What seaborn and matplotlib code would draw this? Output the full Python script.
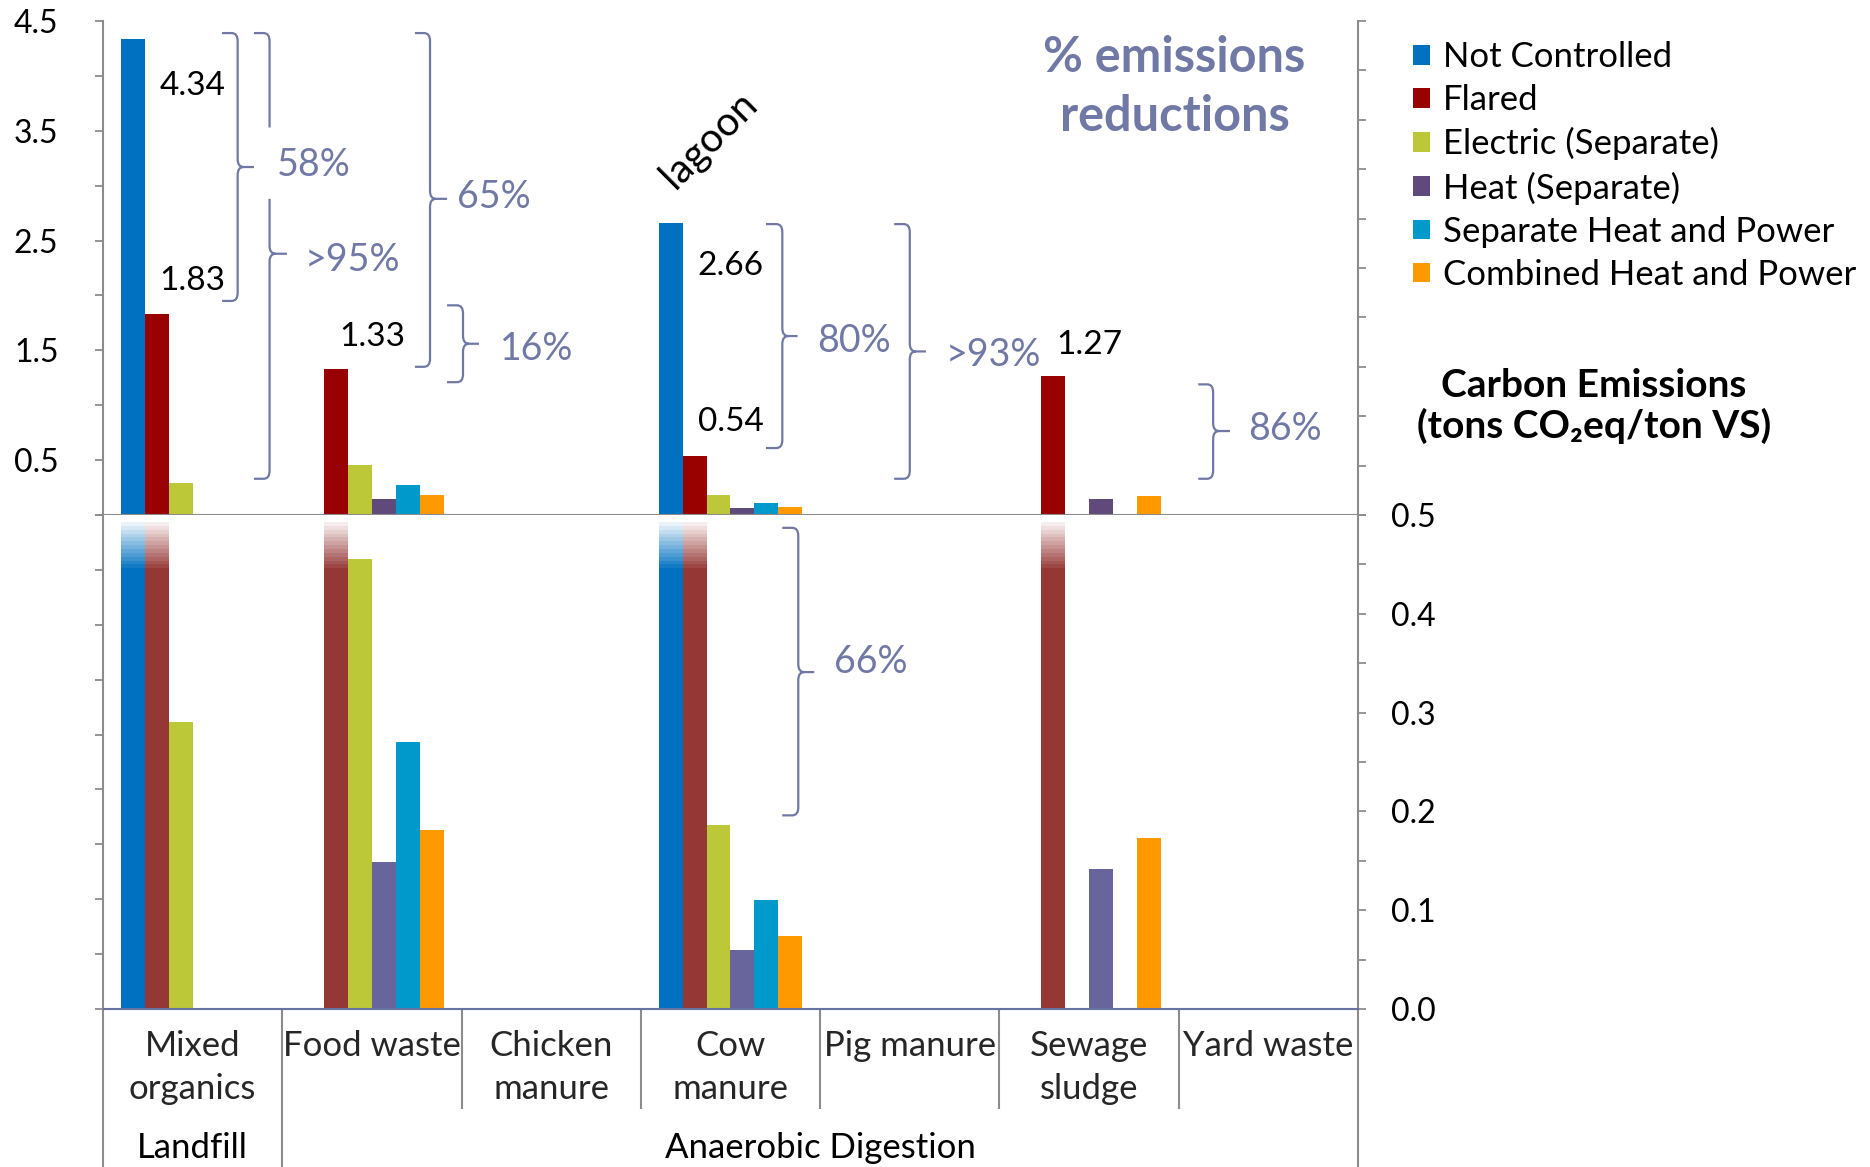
import numpy as np
import pandas as pd
import matplotlib
matplotlib.use("Agg")
import matplotlib.pyplot as plt
from matplotlib.path import Path
from matplotlib.patches import PathPatch, Patch
from matplotlib import transforms
from matplotlib.ticker import FixedLocator, NullFormatter, FormatStrFormatter
import seaborn as sns

# ---------------------------------------------------------------- data
categories = ["Mixed\norganics", "Food waste", "Chicken\nmanure", "Cow\nmanure",
              "Pig manure", "Sewage\nsludge", "Yard waste"]
series = ["Not Controlled", "Flared", "Electric (Separate)", "Heat (Separate)",
          "Separate Heat and Power", "Combined Heat and Power"]
nan = np.nan
not_controlled = [4.34, nan, nan, 2.66, nan, nan, nan]
flared = [1.83, 1.33, nan, 0.54, nan, 1.27, nan]
electric = [0.29, 0.455, nan, 0.186, nan, nan, nan]
heat = [nan, 0.149, nan, 0.060, nan, 0.142, nan]
sep_heat_power = [nan, 0.270, nan, 0.110, nan, nan, nan]
comb_heat_power = [nan, 0.181, nan, 0.074, nan, 0.173, nan]

treatments = ["Landfill", "Anaerobic Digestion"]
treatment_spans = [(0, 0), (1, 6)]          # first / last category index of each group
left_ticks = [0.5, 1.5, 2.5, 3.5, 4.5]       # upper panel scale
right_ticks = [0.0, 0.1, 0.2, 0.3, 0.4, 0.5]  # lower (zoomed) panel scale
TOP_MAX, BOT_MAX = 4.5, 0.5

reductions = ["58%", ">95%", "65%", "16%", "80%", ">93%", "86%"]
reduction_zoom = ["66%"]

values = [not_controlled, flared, electric, heat, sep_heat_power, comb_heat_power]
df = pd.DataFrame(
    [(c, s, v) for s, vals in zip(series, values) for c, v in zip(categories, vals)],
    columns=["category", "series", "value"],
).dropna()

# ---------------------------------------------------------------- style
top_palette = ["#0070C0", "#990000", "#BCC837", "#604A7B", "#0099CC", "#FF9900"]
bot_palette = ["#0070C0", "#953735", "#BCC837", "#67659B", "#0099CC", "#FF9900"]
GRAY = "#8C8C8C"
SLATE = "#7079A6"
AXIS_BLUE = "#6872A3"

sns.set_theme(style="white")
plt.rcParams["font.family"] = ["Lato", "DejaVu Sans"]
plt.rcParams["text.color"] = "black"

fig = plt.figure(figsize=(18.7, 11.67), dpi=100)
L, W = 103 / 1870, 1255 / 1870
H = 494 / 1167
ax_top = fig.add_axes([L, 1 - 515 / 1167, W, H])
ax_bot = fig.add_axes([L, 1 - 1009 / 1167, W, H])

for ax, pal in ((ax_top, top_palette), (ax_bot, bot_palette)):
    sns.barplot(data=df, x="category", y="value", hue="series",
                order=categories, hue_order=series, palette=pal,
                width=0.8, linewidth=0, saturation=1, errorbar=None,
                legend=False, ax=ax)
    ax.set_xlim(-0.5, 6.5)
    ax.set_xlabel("")
    ax.set_ylabel("")
    ax.spines["top"].set_visible(False)
    for side in ("left", "right", "bottom"):
        ax.spines[side].set_visible(True)
        ax.spines[side].set_color(GRAY)
        ax.spines[side].set_linewidth(1.5)

ax_top.set_ylim(0, TOP_MAX)
ax_bot.set_ylim(0, BOT_MAX)
ax_bot.spines["bottom"].set_color(AXIS_BLUE)
ax_bot.spines["bottom"].set_zorder(8)

tick_kw = dict(colors=GRAY, width=1.3, length=6)

# twin axes carrying the tick marks that continue the other panel's scale
ax_top_r = ax_top.twinx()
ax_bot_l = ax_bot.twinx()

# upper panel: left scale with labels, category boundary ticks below
ax_top.yaxis.tick_left()
ax_top.yaxis.set_major_locator(FixedLocator(left_ticks))
ax_top.yaxis.set_major_formatter(FormatStrFormatter("%.1f"))
ax_top.yaxis.set_minor_locator(FixedLocator([0, 1, 2, 3, 4]))
ax_top.tick_params(axis="y", which="both", left=True, right=False, direction="out",
                   labelleft=True, labelright=False,
                   labelsize=23, pad=26, labelcolor="black", **tick_kw)
ax_top.set_xticks([i + 0.5 for i in range(len(categories) - 1)])
ax_top.tick_params(axis="x", which="major", bottom=True, direction="out",
                   labelbottom=False, colors=GRAY, width=1.5, length=9)

ax_top_r.set_ylim(BOT_MAX, 2 * BOT_MAX)
ax_top_r.yaxis.set_major_locator(FixedLocator(np.arange(0.5, 1.0001, 0.05)))
ax_top_r.yaxis.set_major_formatter(NullFormatter())
ax_top_r.tick_params(axis="y", right=True, left=False, direction="out", **tick_kw)
for s in ax_top_r.spines.values():
    s.set_visible(False)

# lower panel: labelled right scale
ax_bot.yaxis.tick_right()
ax_bot.yaxis.set_major_locator(FixedLocator(right_ticks))
ax_bot.yaxis.set_major_formatter(FormatStrFormatter("%.1f"))
ax_bot.yaxis.set_minor_locator(FixedLocator(np.arange(0.05, 0.5, 0.1)))
ax_bot.tick_params(axis="y", which="both", right=True, left=False, direction="out",
                   labelright=True, labelleft=False,
                   labelsize=23, pad=18, labelcolor="black", **tick_kw)

# lower panel left spine: unlabelled ticks continuing the upper scale
ax_bot_l.set_ylim(-TOP_MAX, 0)
ax_bot_l.yaxis.tick_left()
ax_bot_l.yaxis.set_major_locator(FixedLocator(np.arange(-4.5, 0.01, 0.5)))
ax_bot_l.yaxis.set_major_formatter(NullFormatter())
ax_bot_l.tick_params(axis="y", left=True, right=False, labelleft=False,
                     labelright=False, direction="out", **tick_kw)
for s in ax_bot_l.spines.values():
    s.set_visible(False)

# category labels and separators under the lower panel
ax_bot.set_xticks(range(len(categories)))
ax_bot.set_xticklabels(categories)
ax_bot.xaxis.set_minor_locator(FixedLocator([i + 0.5 for i in range(1, len(categories) - 1)]))
ax_bot.tick_params(axis="x", which="major", length=0, pad=15, labelsize=25)
ax_bot.tick_params(axis="x", which="minor", bottom=True, direction="out",
                   length=72, width=1.5, colors=GRAY)
for t in ax_bot.get_xticklabels():
    t.set_linespacing(1.42)

trans_b = transforms.blended_transform_factory(ax_bot.transData, ax_bot.transAxes)
bounds = sorted({-0.5, len(categories) - 0.5} | {b + 0.5 for _, b in treatment_spans})
for xb in bounds:
    ax_bot.plot([xb, xb], [0, -0.33], transform=trans_b, color=GRAY, lw=1.5,
                clip_on=False, solid_capstyle="butt")
for name, (a, b) in zip(treatments, treatment_spans):
    ax_bot.text((a + b) / 2, -0.281, name, transform=trans_b, ha="center",
                va="center", fontsize=25)

# fade out the tops of bars that run past the zoomed scale
fade_lo, fade_hi = 0.446, 0.493
n_band = 12
alpha = np.concatenate([[1.0], np.linspace(0.92, 0.08, n_band)])
edges = np.concatenate([[BOT_MAX], np.linspace(fade_hi, fade_lo, n_band + 1)])
for p in list(ax_bot.patches):
    h = p.get_height()
    if np.isfinite(h) and h > BOT_MAX:
        x0, w = p.get_x(), p.get_width()
        for k in range(len(alpha)):
            ax_bot.fill_between([x0, x0 + w], edges[k + 1], edges[k],
                                color="white", alpha=alpha[k], lw=0, zorder=5)
ax_bot.set_xlim(-0.5, 6.5)
ax_bot.set_ylim(0, BOT_MAX)


# ---------------------------------------------------------------- braces
def brace(ax, x, y_top, y_bot, y_tip, x_hook, x_tip, gap=None):
    bb = ax.get_window_extent()
    x0, x1 = ax.get_xlim()
    y0, y1 = ax.get_ylim()
    rx = 6 * (x1 - x0) / bb.width
    ry = 8 * (y1 - y0) / bb.height
    M, Ln, C = Path.MOVETO, Path.LINETO, Path.CURVE3
    v = [(x_hook, y_top), (x - rx, y_top), (x, y_top), (x, y_top - ry)]
    c = [M, Ln, C, C]
    if gap:
        v += [(x, gap[0]), (x, gap[1])]
        c += [Ln, M]
    v += [(x, y_tip + ry), (x, y_tip), (x + rx, y_tip), (x_tip, y_tip),
          (x + rx, y_tip), (x, y_tip), (x, y_tip - ry),
          (x, y_bot + ry), (x, y_bot), (x - rx, y_bot), (x_hook, y_bot)]
    c += [Ln, C, C, Ln, M, C, C, Ln, C, C, Ln]
    ax.add_patch(PathPatch(Path(v, c), fill=False, edgecolor=SLATE, lw=1.6,
                           clip_on=False, zorder=6))


top_braces = [  # x, top, bottom, tip, hook end, tip end, gap
    (0.251, 4.39, 1.95, 3.17, 0.164, 0.342, None),
    (0.429, 4.39, 0.33, 2.38, 0.342, 0.526, (3.53, 2.88)),
    (1.324, 4.39, 1.35, 2.88, 1.240, 1.419, None),
    (1.508, 1.91, 1.21, 1.56, 1.419, 1.597, None),
    (3.289, 2.65, 0.61, 1.63, 3.198, 3.374, None),
    (4.000, 2.65, 0.33, 1.49, 3.913, 4.090, None),
    (5.692, 1.19, 0.33, 0.765, 5.609, 5.786, None),
]
top_label_pos = [(0.469, 3.19), (0.628, 2.32), (1.473, 2.90), (1.712, 1.51),
                 (3.482, 1.585), (4.20, 1.454), (5.889, 0.78)]
for (x, yt, yb, yp, xh, xt, g), txt, (lx, ly) in zip(top_braces, reductions, top_label_pos):
    brace(ax_top, x, yt, yb, yp, xh, xt, g)
    ax_top.text(lx, ly, txt, color=SLATE, fontsize=27, ha="left", va="center")

brace(ax_bot, 3.378, 0.487, 0.196, 0.341, 3.289, 3.467)
ax_bot.text(3.577, 0.351, reduction_zoom[0], color=SLATE, fontsize=27,
            ha="left", va="center", zorder=7)

# value labels for the uncontrolled / flared bars
value_labels = [  # category index, series values, label height
    (0, not_controlled, 3.91), (0, flared, 2.13), (1, flared, 1.62),
    (3, not_controlled, 2.27), (3, flared, 0.845), (5, flared, 1.55),
]
for ci, vals, ly in value_labels:
    ax_top.text(ci, ly, f"{vals[ci]:.2f}", ha="center", va="center", fontsize=24)

ax_top.text(2.88, 3.42, "lagoon", rotation=45, ha="center", va="center",
            fontsize=29, rotation_mode="anchor")
ax_top.text(5.477, 3.90, "% emissions\nreductions", color=SLATE, fontsize=35,
            fontweight="bold", ha="center", va="center", linespacing=1.38)

# legend and axis title on the right
handles = [Patch(facecolor=c, edgecolor="none") for c in top_palette]
fig.legend(handles, series, loc="upper left",
           bbox_to_anchor=(1413 / 1870, 1 - 41 / 1167), frameon=False,
           fontsize=25, handlelength=0.5, handleheight=0.5, handletextpad=0.35,
           labelspacing=0.32, borderpad=0, borderaxespad=0)
fig.text(1594 / 1870, 1 - 406 / 1167, "Carbon Emissions\n(tons CO\u2082eq/ton VS)",
         ha="center", va="center", fontsize=28, fontweight="bold", linespacing=1.15)

fig.savefig("out.png", dpi=100, facecolor="white")
